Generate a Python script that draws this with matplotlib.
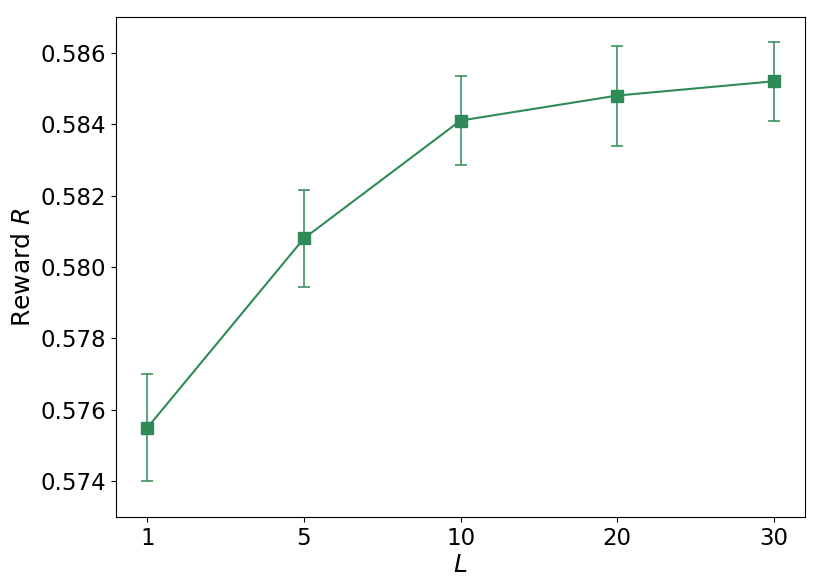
import matplotlib
matplotlib.use("Agg")
import matplotlib.pyplot as plt

L_labels = ["1", "5", "10", "20", "30"]
reward = [0.5755, 0.5808, 0.5841, 0.5848, 0.5852]
reward_err = [0.0015, 0.00135, 0.00125, 0.0014, 0.0011]

fig = plt.figure(figsize=(8.3, 5.81), dpi=100)
ax = fig.add_axes([116/830, 1-517/581, (805-116)/830, (517-17)/581])
x = list(range(len(L_labels)))
color = "#2e8b57"
ax.errorbar(x, reward, yerr=reward_err, color=color, marker="s", markersize=9,
            capsize=4, elinewidth=1.3, capthick=1.3, linewidth=1.5,
            ecolor=(0.18, 0.545, 0.34, 0.85))
ax.set_xticks(x)
ax.set_xticklabels(L_labels)
ax.set_ylim(0.573, 0.587)
ax.set_yticks([0.574, 0.576, 0.578, 0.580, 0.582, 0.584, 0.586])
ax.tick_params(labelsize=16.5)
ax.set_xlabel("$L$", fontsize=18, labelpad=2)
ax.set_ylabel("Reward $R$", fontsize=18)
fig.savefig("out.png", dpi=100)
